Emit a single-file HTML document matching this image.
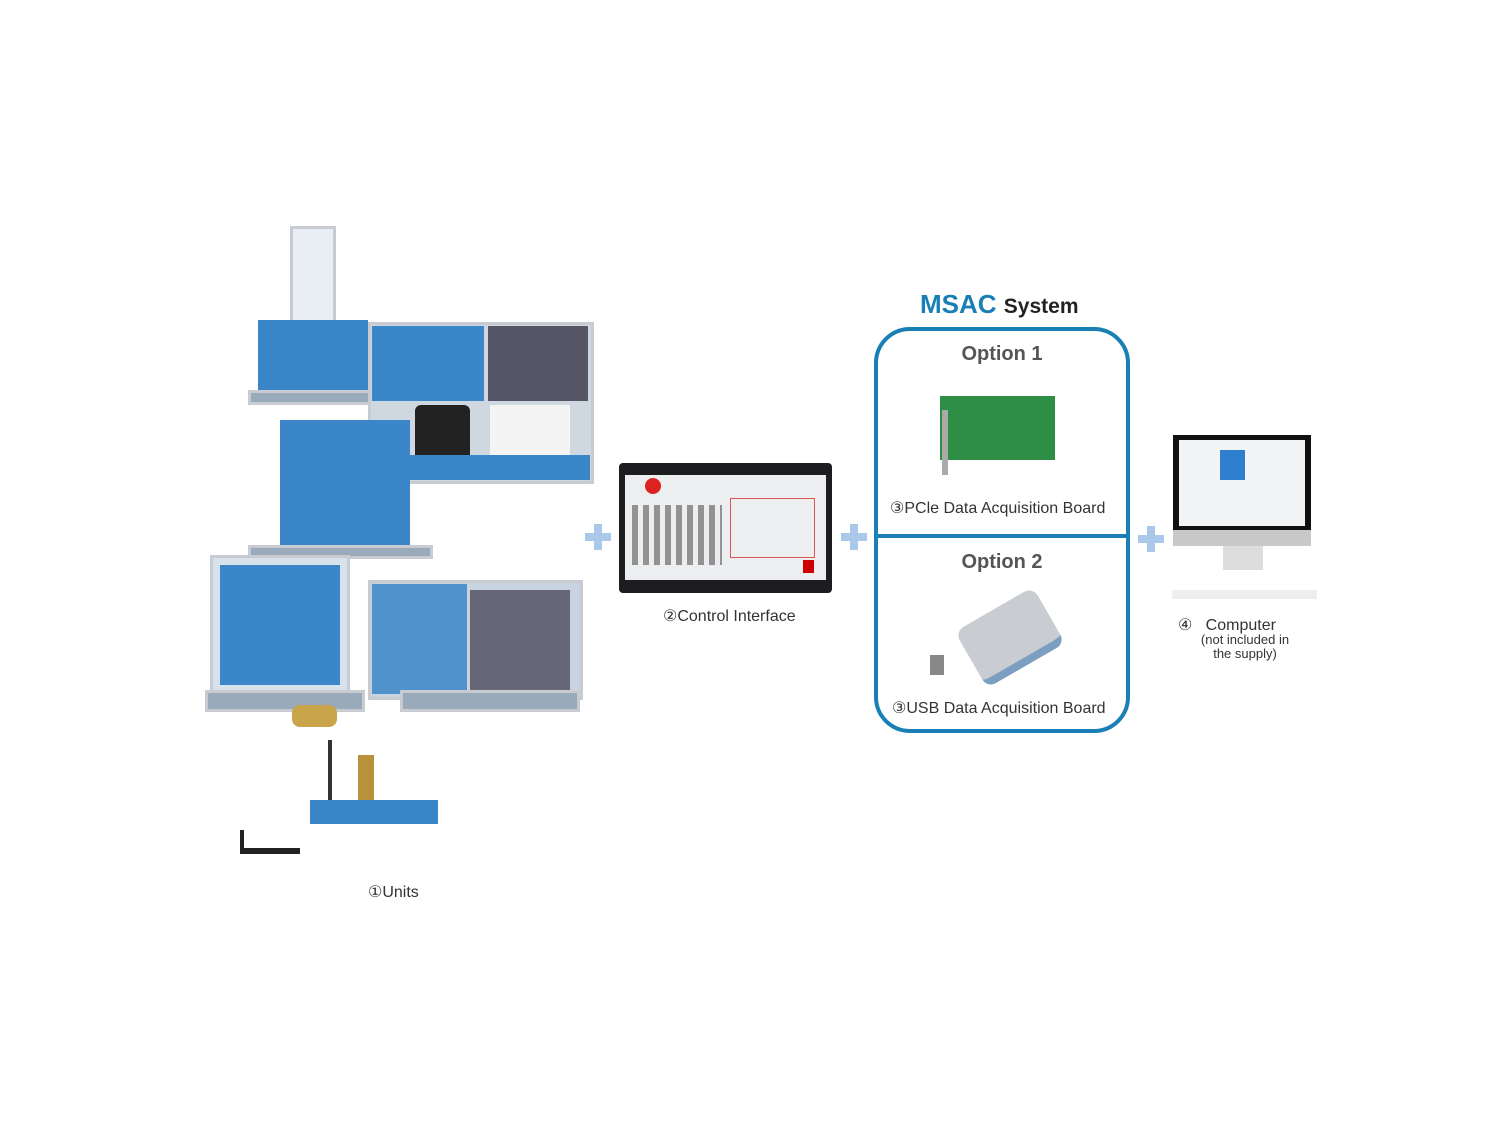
<!DOCTYPE html>
<html><head><meta charset="utf-8"><style>
body{margin:0;width:1500px;height:1125px;background:#fff;position:relative;overflow:hidden;font-family:"Liberation Sans",sans-serif}
div{position:absolute;box-sizing:border-box}
.t{color:#333;font-size:16px;white-space:nowrap}
.plus{width:26px;height:26px}
.plus:before{content:"";position:absolute;left:9px;top:0;width:8px;height:26px;background:#a9c8ea}
.plus:after{content:"";position:absolute;left:0;top:9px;width:26px;height:8px;background:#a9c8ea}
.b{background:#3a86c8}
.f{border:3px solid #c8ccd2}
</style></head><body>
<div class="f" style="left:290px;top:226px;width:46px;height:150px;background:#e8eef4"></div>
<div class="b" style="left:258px;top:320px;width:110px;height:75px"></div>
<div class="f" style="left:248px;top:390px;width:125px;height:15px;background:#9ab"></div>
<div class="f" style="left:368px;top:322px;width:226px;height:162px;background:#cfd8e0"></div>
<div class="b" style="left:372px;top:326px;width:112px;height:75px"></div>
<div style="left:488px;top:326px;width:100px;height:75px;background:#556"></div>
<div style="left:415px;top:405px;width:55px;height:68px;background:#222;border-radius:6px"></div>
<div style="left:490px;top:405px;width:80px;height:50px;background:#f4f4f4"></div>
<div class="b" style="left:372px;top:455px;width:218px;height:25px"></div>
<div class="b" style="left:280px;top:420px;width:130px;height:130px"></div>
<div class="f" style="left:248px;top:545px;width:185px;height:14px;background:#9ab"></div>
<div class="f" style="left:210px;top:555px;width:140px;height:140px;background:#d8e2ec"></div>
<div class="b" style="left:220px;top:565px;width:120px;height:120px"></div>
<div class="f" style="left:205px;top:690px;width:160px;height:22px;background:#9ab"></div>
<div class="f" style="left:368px;top:580px;width:215px;height:120px;background:#c8d4e0"></div>
<div class="b" style="left:372px;top:584px;width:95px;height:110px;opacity:.85"></div>
<div style="left:470px;top:590px;width:100px;height:100px;background:#667"></div>
<div class="f" style="left:400px;top:690px;width:180px;height:22px;background:#9ab"></div>
<div style="left:292px;top:705px;width:45px;height:22px;background:#c9a44a;border-radius:8px"></div>
<div style="left:358px;top:755px;width:16px;height:50px;background:#b8923a"></div>
<div style="left:328px;top:740px;width:4px;height:70px;background:#333"></div>
<div class="b" style="left:310px;top:800px;width:128px;height:24px"></div>
<div style="left:240px;top:830px;width:60px;height:24px;border-bottom:6px solid #222;border-left:4px solid #222"></div>
<div class="t" style="left:368px;top:882px">&#9312;Units</div>

<div class="plus" style="left:585px;top:524px"></div>
<div style="left:619px;top:463px;width:213px;height:130px;background:#1d1d1f;border-radius:4px"></div>
<div style="left:625px;top:475px;width:201px;height:105px;background:#eceef0"></div>
<div style="left:730px;top:498px;width:85px;height:60px;border:1px solid #d55"></div>
<div style="left:803px;top:560px;width:11px;height:13px;background:#c00"></div>
<div style="left:645px;top:478px;width:16px;height:16px;border-radius:50%;background:#d22"></div>
<div style="left:632px;top:505px;width:90px;height:60px;background:repeating-linear-gradient(90deg,#555 0 6px,transparent 6px 11px);opacity:.6"></div>
<div class="t" style="left:663px;top:606px">&#9313;Control Interface</div>

<div class="plus" style="left:841px;top:524px"></div>
<div style="left:920px;top:289px;font-size:26px;font-weight:bold;color:#1a7fb5;white-space:nowrap">MSAC <span style="color:#222;font-size:21px">System</span></div>
<div style="left:874px;top:327px;width:256px;height:406px;border:4px solid #1a7fb5;border-radius:36px"></div>
<div style="left:876px;top:534px;width:252px;height:4px;background:#1a7fb5"></div>
<div style="left:874px;top:343px;width:256px;text-align:center;font-size:20px;font-weight:bold;color:#555">Option 1</div>
<div style="left:940px;top:396px;width:115px;height:64px;background:#2e8e45"></div>
<div style="left:942px;top:410px;width:6px;height:65px;background:#aaa"></div>
<div class="t" style="left:890px;top:498px">&#9314;PCle Data Acquisition Board</div>
<div style="left:874px;top:551px;width:256px;text-align:center;font-size:20px;font-weight:bold;color:#555">Option 2</div>
<div style="left:965px;top:605px;width:90px;height:65px;background:#c9ccd0;border-radius:10px;transform:rotate(-30deg);border-bottom:8px solid #7a9fc0"></div>
<div style="left:930px;top:655px;width:14px;height:20px;background:#888"></div>
<div class="t" style="left:892px;top:698px">&#9314;USB Data Acquisition Board</div>

<div class="plus" style="left:1138px;top:526px"></div>
<div style="left:1173px;top:435px;width:138px;height:97px;background:#111"></div>
<div style="left:1179px;top:440px;width:126px;height:86px;background:#f2f4f6"></div>
<div style="left:1220px;top:450px;width:25px;height:30px;background:#2f7fcf"></div>
<div style="left:1173px;top:530px;width:138px;height:16px;background:#c8c8c8"></div>
<div style="left:1223px;top:546px;width:40px;height:24px;background:#ddd"></div>
<div style="left:1172px;top:590px;width:145px;height:9px;background:#eee"></div>
<div class="t" style="left:1178px;top:615px">&#9315;&nbsp;&nbsp;&nbsp;Computer</div>
<div style="left:1180px;top:633px;width:130px;text-align:center;font-size:13px;color:#333;line-height:14px">(not included in<br>the supply)</div>
</body></html>
